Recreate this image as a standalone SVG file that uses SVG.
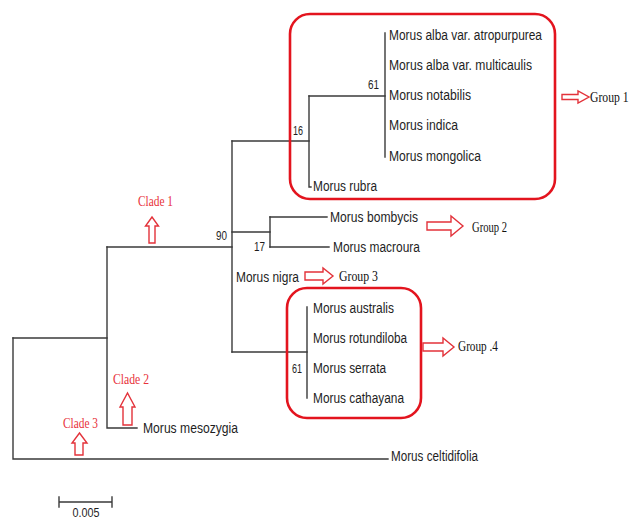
<svg xmlns="http://www.w3.org/2000/svg" width="632" height="519" viewBox="0 0 632 519">
<defs>
<style>
.br{fill:none;stroke:#3a3a3a;stroke-width:1.4;stroke-linecap:square}
.tx{font-family:"Liberation Sans",Arial,sans-serif;font-size:14px;fill:#1e1e1e}
.num{font-family:"Liberation Sans",Arial,sans-serif;font-size:13px;fill:#1e1e1e}
.clade{font-family:"Liberation Serif","Times New Roman",serif;font-size:15px;fill:#e8323a}
.grp{font-family:"Liberation Serif","Times New Roman",serif;font-size:15px;fill:#111}
.box{fill:none;stroke:#e3141e;stroke-width:2.6}
.arr{fill:#fff;stroke:#e3323a;stroke-width:1.4;stroke-linejoin:miter}
</style>
</defs>
<rect width="632" height="519" fill="#fff"/>
<g id="connectors">
<path class="br" d="M13,338 V459 H388"/>
<path class="br" d="M13,338 H107"/>
<path class="br" d="M107,247 V428 H137"/>
<path class="br" d="M107,247 H232"/>
<path class="br" d="M232,141 V352"/>
<path class="br" d="M232,141 H309"/>
<path class="br" d="M309,96 V187 H311"/>
<path class="br" d="M309,96 H385"/>
<path class="br" d="M385,33 V157"/>
<path class="br" d="M232,232 H270"/>
<path class="br" d="M270,217 V247"/>
<path class="br" d="M270,217 H327"/>
<path class="br" d="M270,247 H329"/>
<path class="br" d="M232,352 H307"/>
<path class="br" d="M307,307 V398"/>
</g>
<g id="group1-box"><rect class="box" x="290" y="14" width="265" height="185" rx="20"/></g>
<g id="group4-box"><rect class="box" x="287" y="288" width="134" height="130" rx="20"/></g>
<g id="leaves">
<text class="tx" x="389" y="39.5" textLength="153" lengthAdjust="spacingAndGlyphs">Morus alba var. atropurpurea</text>
<text class="tx" x="389" y="69.5" textLength="143" lengthAdjust="spacingAndGlyphs">Morus alba var. multicaulis</text>
<text class="tx" x="389" y="100" textLength="82" lengthAdjust="spacingAndGlyphs">Morus notabilis</text>
<text class="tx" x="389" y="130" textLength="69" lengthAdjust="spacingAndGlyphs">Morus indica</text>
<text class="tx" x="389" y="160.5" textLength="92" lengthAdjust="spacingAndGlyphs">Morus mongolica</text>
<text class="tx" x="313" y="191" textLength="64" lengthAdjust="spacingAndGlyphs">Morus rubra</text>
<text class="tx" x="330" y="222" textLength="88" lengthAdjust="spacingAndGlyphs">Morus bombycis</text>
<text class="tx" x="333" y="252" textLength="87" lengthAdjust="spacingAndGlyphs">Morus macroura</text>
<text class="tx" x="236" y="282" textLength="63" lengthAdjust="spacingAndGlyphs">Morus nigra</text>
<text class="tx" x="313" y="313" textLength="81" lengthAdjust="spacingAndGlyphs">Morus australis</text>
<text class="tx" x="313" y="343" textLength="94" lengthAdjust="spacingAndGlyphs">Morus rotundiloba</text>
<text class="tx" x="313" y="373" textLength="73" lengthAdjust="spacingAndGlyphs">Morus serrata</text>
<text class="tx" x="313" y="403" textLength="91" lengthAdjust="spacingAndGlyphs">Morus cathayana</text>
<text class="tx" x="143" y="433" textLength="95" lengthAdjust="spacingAndGlyphs">Morus mesozygia</text>
<text class="tx" x="391" y="461" textLength="87" lengthAdjust="spacingAndGlyphs">Morus celtidifolia</text>
</g>
<g id="support-values">
<text class="num" x="368" y="89" textLength="11" lengthAdjust="spacingAndGlyphs">61</text>
<text class="num" x="293" y="135" textLength="10" lengthAdjust="spacingAndGlyphs">16</text>
<text class="num" x="216" y="240" textLength="11" lengthAdjust="spacingAndGlyphs">90</text>
<text class="num" x="254" y="251" textLength="11" lengthAdjust="spacingAndGlyphs">17</text>
<text class="num" x="292" y="373" textLength="10" lengthAdjust="spacingAndGlyphs">61</text>
</g>
<g id="group1-label">
<path class="arr" d="M562,94.5 H578 V91 L589,97 L578,103 V99.5 H562 Z"/>
<text class="grp" transform="translate(590,101.5) scale(0.78,1)">Group 1</text>
</g>
<g id="group2-label">
<path class="arr" d="M427,222 H451 V216 L463,226 L451,236 V230 H427 Z"/>
<text class="grp" x="472" y="232" textLength="35" lengthAdjust="spacingAndGlyphs">Group 2</text>
</g>
<g id="group3-label">
<path class="arr" d="M305,272 H323 V268 L333,276 L323,284 V280 H305 Z"/>
<text class="grp" x="339" y="281" textLength="39" lengthAdjust="spacingAndGlyphs">Group 3</text>
</g>
<g id="group4-label">
<path class="arr" d="M423,343 H443 V338 L454,347 L443,356 V351 H423 Z"/>
<text class="grp" x="458" y="351" textLength="40" lengthAdjust="spacingAndGlyphs">Group .4</text>
</g>
<g id="clade1-label">
<text class="clade" x="138" y="206" textLength="35" lengthAdjust="spacingAndGlyphs">Clade 1</text>
<path class="arr" d="M149,243 V226 H145.5 L152,217 L158.5,226 H155 V243 Z"/>
</g>
<g id="clade2-label">
<text class="clade" x="113" y="384" textLength="36" lengthAdjust="spacingAndGlyphs">Clade 2</text>
<path class="arr" d="M123,425 V407 H120 L127.5,393 L135,407 H132 V425 Z"/>
</g>
<g id="clade3-label">
<text class="clade" x="63" y="428" textLength="35" lengthAdjust="spacingAndGlyphs">Clade 3</text>
<path class="arr" d="M75,455 V443 H72 L79.5,433 L87,443 H83 V455 Z"/>
</g>
<g id="scale-bar">
<path class="br" d="M59,502 H112 M59,497 V507 M112,497 V507"/>
<text class="num" x="86" y="517" text-anchor="middle" textLength="27" lengthAdjust="spacingAndGlyphs">0.005</text>
</g>
</svg>
